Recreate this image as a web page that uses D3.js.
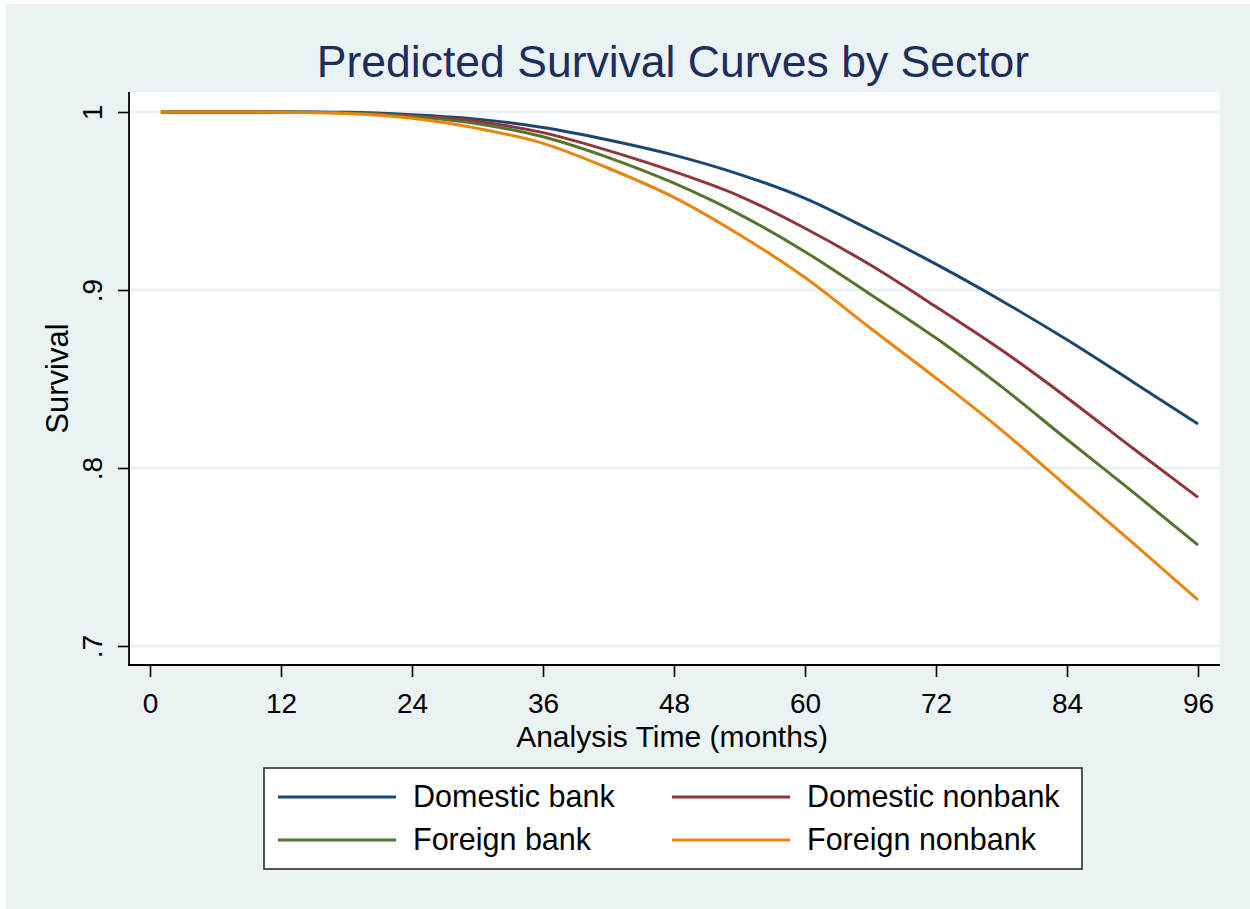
<!DOCTYPE html>
<html>
<head>
<meta charset="utf-8">
<script src="https://cdn.jsdelivr.net/npm/d3@7"></script>
<style>
  html, body { margin: 0; padding: 0; background: #ffffff; }
  svg { display: block; font-family: "Liberation Sans", Arial, sans-serif; }
</style>
</head>
<body>
<svg id="chart" width="1250" height="909"></svg>
<script>
// Analysis time (months) at which predicted survival was read
const months = [1, 6, 12, 18, 24, 30, 36, 42, 48, 54, 60, 66, 72, 78, 84, 90, 96];

// Predicted survival by sector
const domesticBank    = [1, 1, 1, 0.9998, 0.9985, 0.9960, 0.9913, 0.9843, 0.9758, 0.9650, 0.9515, 0.9337, 0.9145, 0.8940, 0.8720, 0.8485, 0.8247];
const domesticNonbank = [1, 1, 1, 0.9996, 0.9979, 0.9947, 0.9884, 0.9783, 0.9665, 0.9528, 0.9347, 0.9140, 0.8906, 0.8663, 0.8395, 0.8112, 0.7835];
const foreignBank     = [1, 1, 1, 0.9995, 0.9974, 0.9934, 0.9861, 0.9744, 0.9600, 0.9425, 0.9215, 0.8975, 0.8730, 0.8457, 0.8160, 0.7867, 0.7567];
const foreignNonbank  = [1, 1, 0.9999, 0.9992, 0.9965, 0.9908, 0.9824, 0.9684, 0.9520, 0.9310, 0.9070, 0.8785, 0.8505, 0.8213, 0.7896, 0.7581, 0.7258];

const seriesNames  = ["Domestic bank", "Domestic nonbank", "Foreign bank", "Foreign nonbank"];
const seriesValues = [domesticBank, domesticNonbank, foreignBank, foreignNonbank];
const seriesColors = ["#1a476f", "#90353b", "#55752f", "#e8850c"];

const xTicks = [0, 12, 24, 36, 48, 60, 72, 84, 96];
const yTicks = [1, 0.9, 0.8, 0.7];
const yTickLabels = ["1", ".9", ".8", ".7"];

const chartTitle = "Predicted Survival Curves by Sector";
const xTitle = "Analysis Time (months)";
const yTitle = "Survival";

// ---- layout ----
const W = 1250, H = 909;
const plot = { left: 128, right: 1220, top: 92, bottom: 665 };
const bg = "#eaf2f3";

const svg = d3.select("#chart");

// outer graph region
svg.append("rect").attr("x", 6).attr("y", 4).attr("width", W - 6).attr("height", H - 4).attr("fill", bg);

// scales
const x = d3.scaleLinear().domain([0, 96]).range([150, 1198]);
const y = d3.scaleLinear().domain([0.7, 1]).range([646, 112]);

// plot region
svg.append("rect")
  .attr("x", plot.left).attr("y", plot.top)
  .attr("width", plot.right - plot.left).attr("height", plot.bottom - plot.top)
  .attr("fill", "#ffffff");

// horizontal grid lines
svg.append("g").selectAll("line").data(yTicks).join("line")
  .attr("x1", plot.left).attr("x2", plot.right)
  .attr("y1", d => y(d)).attr("y2", d => y(d))
  .attr("stroke", bg).attr("stroke-width", 3);

// curves
const line = d3.line()
  .x(d => x(d[0]))
  .y(d => y(d[1]))
  .curve(d3.curveMonotoneX);

const curves = svg.append("g");
seriesValues.forEach((vals, i) => {
  curves.append("path")
    .datum(months.map((m, j) => [m, vals[j]]))
    .attr("d", line)
    .attr("fill", "none")
    .attr("stroke", seriesColors[i])
    .attr("stroke-width", 3)
    .attr("stroke-linejoin", "round");
});

// x axis
const xAxis = svg.append("g")
  .attr("transform", `translate(0,${plot.bottom})`)
  .call(d3.axisBottom(x).tickValues(xTicks).tickSize(12).tickPadding(16).tickFormat(d3.format("d")));
xAxis.select(".domain").remove();
xAxis.selectAll(".tick line").attr("stroke", "#000").attr("stroke-width", 1.6);
xAxis.selectAll(".tick text").attr("font-size", 28).attr("fill", "#000")
  .attr("font-family", "Liberation Sans, Arial, sans-serif");
svg.append("line")
  .attr("x1", plot.left).attr("x2", plot.right)
  .attr("y1", plot.bottom).attr("y2", plot.bottom)
  .attr("stroke", "#000").attr("stroke-width", 1.8);

// y axis
const yAxis = svg.append("g")
  .attr("transform", `translate(${plot.left},0)`)
  .call(d3.axisLeft(y).tickValues(yTicks).tickSize(10).tickFormat((d, i) => yTickLabels[i]));
yAxis.select(".domain").remove();
yAxis.selectAll(".tick line").attr("stroke", "#000").attr("stroke-width", 1.6);
yAxis.selectAll(".tick text")
  .attr("font-size", 28).attr("fill", "#000")
  .attr("font-family", "Liberation Sans, Arial, sans-serif")
  .attr("x", null).attr("dy", null)
  .attr("text-anchor", "middle")
  .attr("transform", "translate(-26,0) rotate(-90)");
svg.append("line")
  .attr("x1", plot.left + 1).attr("x2", plot.left + 1)
  .attr("y1", plot.top).attr("y2", plot.bottom)
  .attr("stroke", "#000").attr("stroke-width", 1.8);

// titles
svg.append("text")
  .attr("x", (plot.left + plot.right) / 2 - 1).attr("y", 77)
  .attr("text-anchor", "middle").attr("font-size", 44.5).attr("fill", "#1e2d5c")
  .text(chartTitle);

svg.append("text")
  .attr("x", (plot.left + plot.right) / 2 - 2).attr("y", 747)
  .attr("text-anchor", "middle").attr("font-size", 30).attr("fill", "#000")
  .text(xTitle);

svg.append("text")
  .attr("transform", `translate(68,${(plot.top + plot.bottom) / 2}) rotate(-90)`)
  .attr("text-anchor", "middle").attr("font-size", 31).attr("fill", "#000")
  .text(yTitle);

// legend
const legend = svg.append("g");
legend.append("rect")
  .attr("x", 264).attr("y", 768).attr("width", 818).attr("height", 101)
  .attr("fill", "#fff").attr("stroke", "#222").attr("stroke-width", 1.5);

const legendCols = [278, 672];
const legendRows = [797, 840];
seriesNames.forEach((name, i) => {
  const cx = legendCols[i % 2];
  const cy = legendRows[Math.floor(i / 2)];
  legend.append("line")
    .attr("x1", cx).attr("x2", cx + 118)
    .attr("y1", cy).attr("y2", cy)
    .attr("stroke", seriesColors[i]).attr("stroke-width", 3);
  legend.append("text")
    .attr("x", cx + 135).attr("y", cy + 10)
    .attr("font-size", 30.5).attr("fill", "#000")
    .text(name);
});
</script>
</body>
</html>
